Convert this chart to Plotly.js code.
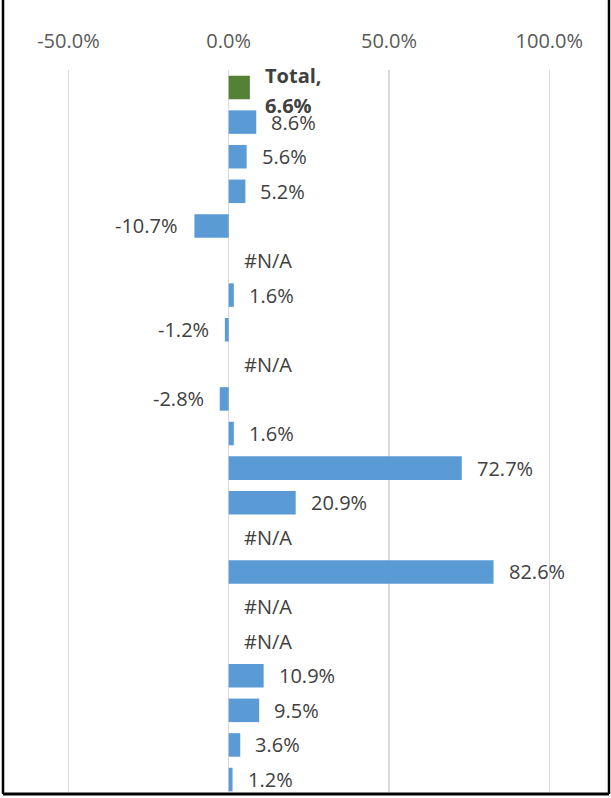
<!DOCTYPE html>
<html>
<head>
<meta charset="utf-8">
<script src="https://cdn.plot.ly/plotly-3.0.1.min.js"></script>
<style>html,body{margin:0;padding:0;background:#fff;}#chart{width:611px;height:798px;}</style>
</head>
<body>
<div id="chart"></div>
<script>
// Data
const categories = ["Total","Row 1","Row 2","Row 3","Row 4","Row 5","Row 6","Row 7","Row 8","Row 9","Row 10",
  "Row 11","Row 12","Row 13","Row 14","Row 15","Row 16","Row 17","Row 18","Row 19","Row 20"];
const values = [6.6, 8.6, 5.6, 5.2, -10.7, null, 1.6, -1.2, null, -2.8, 1.6,
  72.7, 20.9, null, 82.6, null, null, 10.9, 9.5, 3.6, 1.2];
const tickVals = [-50, 0, 50, 100];
const tickLabels = ["-50.0%", "0.0%", "50.0%", "100.0%"];
const totalLabel = "Total,";

const blue = "#5B9BD5", green = "#548235";
const colors = categories.map((c, i) => i === 0 ? green : blue);
const idx = categories.map((c, i) => i);

const trace = {
  type: "bar",
  orientation: "h",
  x: values,
  y: idx,
  marker: {color: colors},
  width: 0.68,
  hoverinfo: "skip"
};

const fmt = v => (v === null) ? "#N/A" : v.toFixed(1) + "%";
const annotations = [];
values.forEach((v, i) => {
  const x = (v === null) ? 0 : v;
  const neg = v !== null && v < 0;
  const base = {
    x: x, y: i, xref: "x", yref: "y", showarrow: false,
    xanchor: neg ? "right" : "left", yanchor: "middle",
    xshift: neg ? -14 : 13, align: "left",
    font: {family: "Open Sans", size: 20, color: "#404040"}
  };
  if (i === 0) {
    annotations.push(Object.assign({}, base, {text: "<b>" + totalLabel + "</b>", yshift: 12}));
    annotations.push(Object.assign({}, base, {text: "<b>" + fmt(v) + "</b>", yshift: -18}));
  } else {
    annotations.push(Object.assign({}, base, {text: fmt(v)}));
  }
});

const W = 611, PH = 722;
const layout = {
  width: 611, height: 798,
  margin: {l: 0, r: 0, t: 70, b: 6, pad: 0},
  paper_bgcolor: "#fff", plot_bgcolor: "#fff",
  showlegend: false,
  bargap: 0.32,
  xaxis: {
    side: "top",
    range: [-228.7/3.206, (611-228.7)/3.206],
    tickvals: tickVals, ticktext: tickLabels,
    showgrid: true, gridcolor: "#D9D9D9", gridwidth: 1.5,
    zeroline: false, showline: false,
    ticks: "outside", ticklen: 13, tickcolor: "rgba(0,0,0,0)",
    tickfont: {family: "Open Sans", size: 20, color: "#595959"},
    fixedrange: true
  },
  yaxis: {
    range: [20.36, -0.506],
    showticklabels: false, showgrid: false, zeroline: false, showline: false,
    ticks: "", fixedrange: true
  },
  annotations: annotations,
  shapes: [
    {type: "line", xref: "paper", yref: "paper", x0: 3/W, x1: 3/W, y0: -2/PH, y1: 1 + 70/PH, line: {color: "#000", width: 2.5}},
    {type: "line", xref: "paper", yref: "paper", x0: 609/W, x1: 609/W, y0: -2/PH, y1: 1 + 70/PH, line: {color: "#000", width: 2.5}},
    {type: "line", xref: "paper", yref: "paper", x0: 3/W, x1: 609/W, y0: -2/PH, y1: -2/PH, line: {color: "#000", width: 3}}
  ]
};

Plotly.newPlot("chart", [trace], layout, {displayModeBar: false, staticPlot: true});
</script>
</body>
</html>
